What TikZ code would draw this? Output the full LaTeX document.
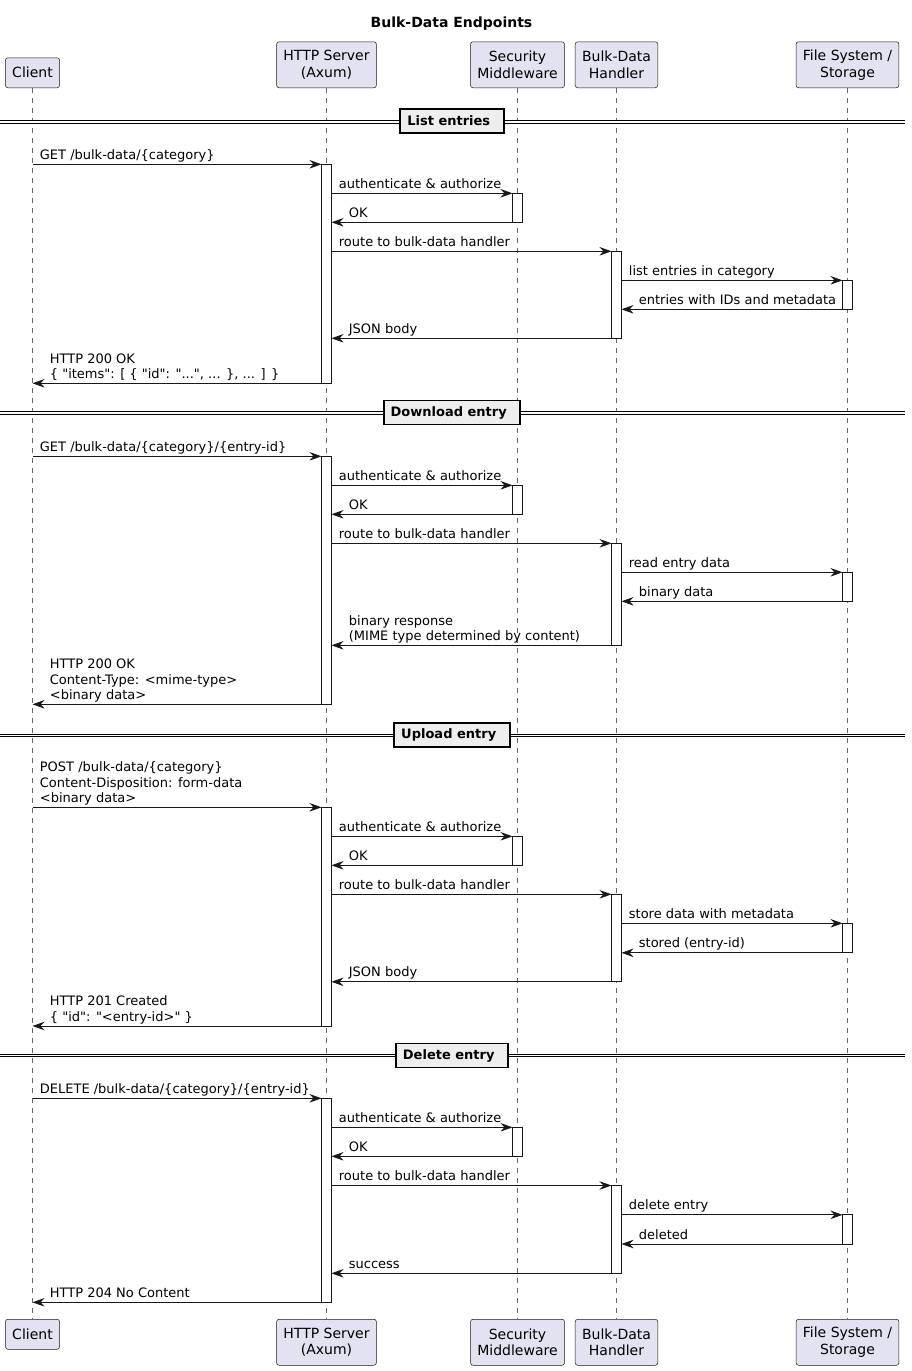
\documentclass[tikz,border=0pt]{standalone}
\usepackage{fontspec}
\setmainfont{DejaVu Sans}[Ligatures=TeXOff]
\usetikzlibrary{arrows.meta}
\definecolor{partfill}{HTML}{E2E2F0}
\definecolor{partdraw}{HTML}{181818}
\definecolor{divfill}{HTML}{EEEEEE}
\definecolor{lifegray}{HTML}{666666}

\begin{document}
\begin{tikzpicture}[x=1pt, y=-1pt,
  part/.style={draw=partdraw, fill=partfill, line width=0.5pt, rounded corners=2.5pt, align=center,
    font=\fontsize{14}{16.8}\selectfont, inner xsep=6.8pt, inner ysep=5pt, minimum height=30pt},
  part2/.style={part, minimum height=46pt},
  lifeline/.style={draw=lifegray, line width=0.5pt, dash pattern=on 5pt off 5pt},
  act/.style={draw=partdraw, fill=white, line width=0.8pt},
  msg/.style={draw=partdraw, line width=0.8pt, -{Stealth[length=12pt,width=8.5pt,inset=4pt]}},
  lbl/.style={anchor=south west, inner sep=0pt, align=left, font=\fontsize{13}{15.3}\selectfont},
  lblR/.style={lbl, pos=0, xshift=7pt},
  lblL/.style={lbl, pos=1, xshift=17pt},
  divline/.style={double, double distance=1.6pt, line width=0.9pt},
  divbox/.style={draw, fill=divfill, line width=1.8pt, inner xsep=0pt, inner ysep=0pt,
    minimum height=24pt, font=\bfseries\fontsize{13}{15}\selectfont},
  ttl/.style={anchor=base, font=\bfseries\fontsize{14}{16}\selectfont}
]
  \fill[white] (0,0) rectangle (911,1371);
  \useasboundingbox (0,0) rectangle (911,1371);

  \node[ttl] (title) at (451.5,27.7) {Bulk-Data Endpoints};

  % participants
  \node[part, anchor=south] (cl) at (32.5,88) {Client};
  \node[part2, anchor=south] (srv) at (326.5,88) {HTTP Server\\(Axum)};
  \node[part2, anchor=south] (sec) at (517.5,88) {Security\\Middleware};
  \node[part2, anchor=south] (bdh) at (616.5,88) {Bulk-Data\\Handler};
  \node[part2, anchor=south] (fs) at (847.5,88) {File System /\\Storage};

  \node[part, anchor=north] (clB) at (32.5,1319) {Client};
  \node[part2, anchor=north] (srvB) at (326.5,1319) {HTTP Server\\(Axum)};
  \node[part2, anchor=north] (secB) at (517.5,1319) {Security\\Middleware};
  \node[part2, anchor=north] (bdhB) at (616.5,1319) {Bulk-Data\\Handler};
  \node[part2, anchor=north] (fsB) at (847.5,1319) {File System /\\Storage};

  % lifelines
  \draw[lifeline] (cl.south) -- (clB.north);
  \draw[lifeline] (srv.south) -- (srvB.north);
  \draw[lifeline] (sec.south) -- (secB.north);
  \draw[lifeline] (bdh.south) -- (bdhB.north);
  \draw[lifeline] (fs.south) -- (fsB.north);

  % List entries
  \draw[divline] (0,122) -- (905,122);
  \node[divbox] (dv1) at (452,121) {\kern7pt List entries\kern13.5pt};

  \draw[act] ([xshift=-5pt]srv |- 0,164.3) rectangle ([xshift=5pt]srv |- 0,383.3);
  \draw[act] ([xshift=-5pt]sec |- 0,193.3) rectangle ([xshift=5pt]sec |- 0,222.3);
  \draw[act] ([xshift=-5pt]bdh |- 0,251.3) rectangle ([xshift=5pt]bdh |- 0,338.3);
  \draw[act] ([xshift=-5pt]fs |- 0,280.3) rectangle ([xshift=5pt]fs |- 0,309.3);

  \draw[msg] (cl |- 0,164.3) -- ([xshift=-5pt]srv |- 0,164.3) node[lblR] (m11) {GET /bulk-data/\{category\}\strut};
  \draw[msg] ([xshift=5pt]srv |- 0,193.3) -- ([xshift=-5pt]sec |- 0,193.3) node[lblR] (m12) {authenticate \& authorize\strut};
  \draw[msg] ([xshift=-5pt]sec |- 0,222.3) -- ([xshift=5pt]srv |- 0,222.3) node[lblL] (m13) {OK\strut};
  \draw[msg] ([xshift=5pt]srv |- 0,251.3) -- ([xshift=-5pt]bdh |- 0,251.3) node[lblR] (m14) {route to bulk-data handler\strut};
  \draw[msg] ([xshift=5pt]bdh |- 0,280.3) -- ([xshift=-5pt]fs |- 0,280.3) node[lblR] (m15) {list entries in category\strut};
  \draw[msg] ([xshift=-5pt]fs |- 0,309.3) -- ([xshift=5pt]bdh |- 0,309.3) node[lblL] (m16) {entries with IDs and metadata\strut};
  \draw[msg] ([xshift=-5pt]bdh |- 0,338.3) -- ([xshift=5pt]srv |- 0,338.3) node[lblL] (m17) {JSON body\strut};
  \draw[msg] ([xshift=-5pt]srv |- 0,383.3) -- (cl |- 0,383.3) node[lblL] (m18) {HTTP 200 OK\\\{ "items": [ \{ "id": "...", ... \}, ... ] \}\strut};

  % Download entry
  \draw[divline] (0,413) -- (905,413);
  \node[divbox] (dv2) at (452,412.5) {\kern7pt Download entry\kern13.5pt};

  \draw[act] ([xshift=-5pt]srv |- 0,456.3) rectangle ([xshift=5pt]srv |- 0,704.3);
  \draw[act] ([xshift=-5pt]sec |- 0,485.3) rectangle ([xshift=5pt]sec |- 0,514.3);
  \draw[act] ([xshift=-5pt]bdh |- 0,543.3) rectangle ([xshift=5pt]bdh |- 0,645.3);
  \draw[act] ([xshift=-5pt]fs |- 0,572.3) rectangle ([xshift=5pt]fs |- 0,601.3);

  \draw[msg] (cl |- 0,456.3) -- ([xshift=-5pt]srv |- 0,456.3) node[lblR] (m21) {GET /bulk-data/\{category\}/\{entry-id\}\strut};
  \draw[msg] ([xshift=5pt]srv |- 0,485.3) -- ([xshift=-5pt]sec |- 0,485.3) node[lblR] (m22) {authenticate \& authorize\strut};
  \draw[msg] ([xshift=-5pt]sec |- 0,514.3) -- ([xshift=5pt]srv |- 0,514.3) node[lblL] (m23) {OK\strut};
  \draw[msg] ([xshift=5pt]srv |- 0,543.3) -- ([xshift=-5pt]bdh |- 0,543.3) node[lblR] (m24) {route to bulk-data handler\strut};
  \draw[msg] ([xshift=5pt]bdh |- 0,572.3) -- ([xshift=-5pt]fs |- 0,572.3) node[lblR] (m25) {read entry data\strut};
  \draw[msg] ([xshift=-5pt]fs |- 0,601.3) -- ([xshift=5pt]bdh |- 0,601.3) node[lblL] (m26) {binary data\strut};
  \draw[msg] ([xshift=-5pt]bdh |- 0,645.3) -- ([xshift=5pt]srv |- 0,645.3) node[lblL] (m27) {binary response\\(MIME type determined by content)\strut};
  \draw[msg] ([xshift=-5pt]srv |- 0,704.3) -- (cl |- 0,704.3) node[lblL] (m28) {HTTP 200 OK\\Content-Type: <mime-type>\\<binary data>\strut};

  % Upload entry
  \draw[divline] (0,735.3) -- (905,735.3);
  \node[divbox] (dv3) at (452,734.8) {\kern7pt Upload entry\kern13.5pt};

  \draw[act] ([xshift=-5pt]srv |- 0,807.3) rectangle ([xshift=5pt]srv |- 0,1026);
  \draw[act] ([xshift=-5pt]sec |- 0,836.3) rectangle ([xshift=5pt]sec |- 0,865.3);
  \draw[act] ([xshift=-5pt]bdh |- 0,894.3) rectangle ([xshift=5pt]bdh |- 0,981.8);
  \draw[act] ([xshift=-5pt]fs |- 0,923.3) rectangle ([xshift=5pt]fs |- 0,952.8);

  \draw[msg] (cl |- 0,807.3) -- ([xshift=-5pt]srv |- 0,807.3) node[lblR] (m31) {POST /bulk-data/\{category\}\\Content-Disposition: form-data\\<binary data>\strut};
  \draw[msg] ([xshift=5pt]srv |- 0,836.3) -- ([xshift=-5pt]sec |- 0,836.3) node[lblR] (m32) {authenticate \& authorize\strut};
  \draw[msg] ([xshift=-5pt]sec |- 0,865.3) -- ([xshift=5pt]srv |- 0,865.3) node[lblL] (m33) {OK\strut};
  \draw[msg] ([xshift=5pt]srv |- 0,894.3) -- ([xshift=-5pt]bdh |- 0,894.3) node[lblR] (m34) {route to bulk-data handler\strut};
  \draw[msg] ([xshift=5pt]bdh |- 0,923.3) -- ([xshift=-5pt]fs |- 0,923.3) node[lblR] (m35) {store data with metadata\strut};
  \draw[msg] ([xshift=-5pt]fs |- 0,952.8) -- ([xshift=5pt]bdh |- 0,952.8) node[lblL] (m36) {stored (entry-id)\strut};
  \draw[msg] ([xshift=-5pt]bdh |- 0,981.8) -- ([xshift=5pt]srv |- 0,981.8) node[lblL] (m37) {JSON body\strut};
  \draw[msg] ([xshift=-5pt]srv |- 0,1026) -- (cl |- 0,1026) node[lblL] (m38) {HTTP 201 Created\\\{ "id": "<entry-id>" \}\strut};

  % Delete entry
  \draw[divline] (0,1055.5) -- (905,1055.5);
  \node[divbox] (dv4) at (452,1055.5) {\kern7pt Delete entry\kern13.5pt};

  \draw[act] ([xshift=-5pt]srv |- 0,1098.3) rectangle ([xshift=5pt]srv |- 0,1302.3);
  \draw[act] ([xshift=-5pt]sec |- 0,1127.3) rectangle ([xshift=5pt]sec |- 0,1156.3);
  \draw[act] ([xshift=-5pt]bdh |- 0,1185.5) rectangle ([xshift=5pt]bdh |- 0,1273.3);
  \draw[act] ([xshift=-5pt]fs |- 0,1214.8) rectangle ([xshift=5pt]fs |- 0,1244);

  \draw[msg] (cl |- 0,1098.3) -- ([xshift=-5pt]srv |- 0,1098.3) node[lblR] (m41) {DELETE /bulk-data/\{category\}/\{entry-id\}\strut};
  \draw[msg] ([xshift=5pt]srv |- 0,1127.3) -- ([xshift=-5pt]sec |- 0,1127.3) node[lblR] (m42) {authenticate \& authorize\strut};
  \draw[msg] ([xshift=-5pt]sec |- 0,1156.3) -- ([xshift=5pt]srv |- 0,1156.3) node[lblL] (m43) {OK\strut};
  \draw[msg] ([xshift=5pt]srv |- 0,1185.5) -- ([xshift=-5pt]bdh |- 0,1185.5) node[lblR] (m44) {route to bulk-data handler\strut};
  \draw[msg] ([xshift=5pt]bdh |- 0,1214.8) -- ([xshift=-5pt]fs |- 0,1214.8) node[lblR] (m45) {delete entry\strut};
  \draw[msg] ([xshift=-5pt]fs |- 0,1244) -- ([xshift=5pt]bdh |- 0,1244) node[lblL] (m46) {deleted\strut};
  \draw[msg] ([xshift=-5pt]bdh |- 0,1273.3) -- ([xshift=5pt]srv |- 0,1273.3) node[lblL] (m47) {success\strut};
  \draw[msg] ([xshift=-5pt]srv |- 0,1302.3) -- (cl |- 0,1302.3) node[lblL] (m48) {HTTP 204 No Content\strut};
\end{tikzpicture}
\end{document}
